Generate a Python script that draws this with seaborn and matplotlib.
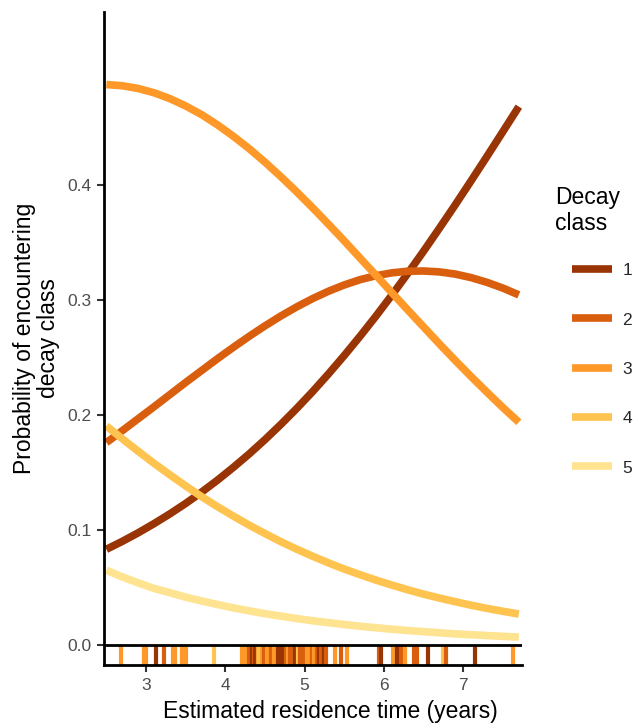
import matplotlib
matplotlib.use("Agg")
import matplotlib.pyplot as plt
import seaborn as sns
import pandas as pd
from matplotlib.lines import Line2D

# ---- data ----
residence = [2.5, 2.7, 2.9, 3.1, 3.3, 3.5, 3.7, 3.9, 4.1, 4.3, 4.5, 4.7, 4.9, 5.1,
             5.3, 5.5, 5.7, 5.9, 6.1, 6.3, 6.5, 6.7, 6.9, 7.1, 7.3, 7.5, 7.7]
p_class1 = [0.0832, 0.0901, 0.0975, 0.1055, 0.1140, 0.1231, 0.1329, 0.1433, 0.1544,
            0.1661, 0.1786, 0.1918, 0.2057, 0.2203, 0.2357, 0.2518, 0.2686, 0.2861,
            0.3043, 0.3231, 0.3425, 0.3625, 0.3829, 0.4038, 0.4250, 0.4465, 0.4681]
p_class2 = [0.1760, 0.1863, 0.1967, 0.2071, 0.2177, 0.2283, 0.2386, 0.2489, 0.2588,
            0.2684, 0.2775, 0.2861, 0.2940, 0.3012, 0.3076, 0.3131, 0.3177, 0.3211,
            0.3236, 0.3250, 0.3252, 0.3244, 0.3225, 0.3194, 0.3153, 0.3103, 0.3044]
p_class3 = [0.4873, 0.4863, 0.4839, 0.4802, 0.4751, 0.4687, 0.4612, 0.4523, 0.4424,
            0.4316, 0.4198, 0.4072, 0.3940, 0.3802, 0.3659, 0.3513, 0.3363, 0.3214,
            0.3063, 0.2913, 0.2765, 0.2617, 0.2473, 0.2333, 0.2197, 0.2064, 0.1937]
p_class4 = [0.1905, 0.1793, 0.1685, 0.1580, 0.1480, 0.1383, 0.1290, 0.1203, 0.1121,
            0.1042, 0.0969, 0.0898, 0.0833, 0.0772, 0.0714, 0.0660, 0.0611, 0.0564,
            0.0521, 0.0480, 0.0442, 0.0408, 0.0376, 0.0346, 0.0318, 0.0293, 0.0269]
p_class5 = [0.0650, 0.0592, 0.0540, 0.0492, 0.0455, 0.0416, 0.0383, 0.0352, 0.0323,
            0.0297, 0.0272, 0.0251, 0.0230, 0.0211, 0.0194, 0.0178, 0.0163, 0.0150,
            0.0137, 0.0126, 0.0116, 0.0106, 0.0097, 0.0089, 0.0082, 0.0075, 0.0069]

classes = ["1", "2", "3", "4", "5"]
colors = ["#993404", "#d95f0e", "#fe9929", "#fec44f", "#fee391"]

rug_x = [2.69, 2.97, 3.00, 3.13, 3.23, 3.34, 3.36, 3.45, 3.50, 3.86,
         4.21, 4.24, 4.27, 4.30, 4.33, 4.36, 4.38, 4.41, 4.43, 4.46, 4.49, 4.52,
         4.55, 4.58, 4.61, 4.64, 4.67, 4.70, 4.73, 4.76, 4.79, 4.82, 4.85, 4.88,
         4.91, 4.94, 4.97, 5.00, 5.03, 5.06, 5.09, 5.12, 5.15, 5.18, 5.21, 5.24, 5.27,
         5.38, 5.46, 5.53, 5.94, 5.96, 6.11, 6.16, 6.19, 6.22, 6.26, 6.38, 6.42,
         6.55, 6.74, 6.78, 7.15, 7.63]
rug_class = ["3", "3", "3", "1", "2", "3", "3", "3", "3", "4",
             "3", "3", "3", "2", "1", "2", "1", "3", "4", "3", "2", "3",
             "3", "2", "3", "3", "1", "1", "1", "2", "3", "2", "2", "1",
             "4", "2", "2", "2", "3", "3", "2", "3", "2", "1", "2", "1", "2",
             "3", "2", "3", "2", "1", "3", "1", "1", "2", "3", "2", "2",
             "1", "4", "2", "1", "3"]

# ---- build tables ----
series = [p_class1, p_class2, p_class3, p_class4, p_class5]
rows = []
for c, vals in zip(classes, series):
    for x, v in zip(residence, vals):
        rows.append({"time": x, "prob": v, "cls": c})
df = pd.DataFrame(rows)
rug_df = pd.DataFrame({"time": rug_x, "cls": rug_class})
palette = dict(zip(classes, colors))

sns.set_theme(style="white")
plt.rcParams["font.family"] = ["Liberation Sans", "DejaVu Sans"]

fig = plt.figure(figsize=(6.38, 7.23), dpi=100)
ax = fig.add_axes([104 / 638, 1 - 665 / 723, (522 - 104) / 638, (665 - 12) / 723])

sns.lineplot(data=df, x="time", y="prob", hue="cls", palette=palette,
             hue_order=classes, lw=5.5, legend=False, ax=ax,
             solid_capstyle="butt", solid_joinstyle="round")

ax.set_xlim(2.47, 7.74)
ax.set_ylim(-0.0174, 0.5504)

sns.rugplot(data=rug_df, x="time", hue="cls", palette=palette, hue_order=classes,
            height=20 / 653, linewidth=3, alpha=1, legend=False,
            expand_margins=False, ax=ax)

ax.axhline(0, color="black", lw=2.0, zorder=5)

ax.set_yticks([0.0, 0.1, 0.2, 0.3, 0.4])
ax.set_yticklabels(["0.0", "0.1", "0.2", "0.3", "0.4"])
ax.set_xticks([3, 4, 5, 6, 7])

for s in ["top", "right"]:
    ax.spines[s].set_visible(False)
for s in ["left", "bottom"]:
    ax.spines[s].set_color("black")
    ax.spines[s].set_linewidth(2.0)

ax.tick_params(axis="both", which="major", length=5, width=1.5, color="#333333",
               labelcolor="#4d4d4d", labelsize=12.5, direction="out",
               left=True, bottom=True, pad=4)

ax.set_xlabel("Estimated residence time (years)", fontsize=16.5, color="black")
ax.xaxis.set_label_coords((330 - 104) / 418, (665 - 700) / 653)
ax.set_ylabel("Probability of encountering\ndecay class", fontsize=16.5,
              color="black", labelpad=5, linespacing=1.1)

fig.text(555 / 638, 1 - 186 / 723, "Decay\nclass", fontsize=16.5, color="black",
         ha="left", va="top", linespacing=1.15)

handles = [Line2D([0], [0], color=col, lw=5.5, solid_capstyle="butt") for col in colors]
leg = ax.legend(handles, classes, loc="upper left",
                bbox_to_anchor=(572 / 638, 1 - 263 / 723), bbox_transform=fig.transFigure,
                frameon=False, fontsize=12.5, handlelength=2.3, borderpad=0,
                borderaxespad=0, labelspacing=1.97, handletextpad=0.6)

fig.savefig("out.png", dpi=100)
